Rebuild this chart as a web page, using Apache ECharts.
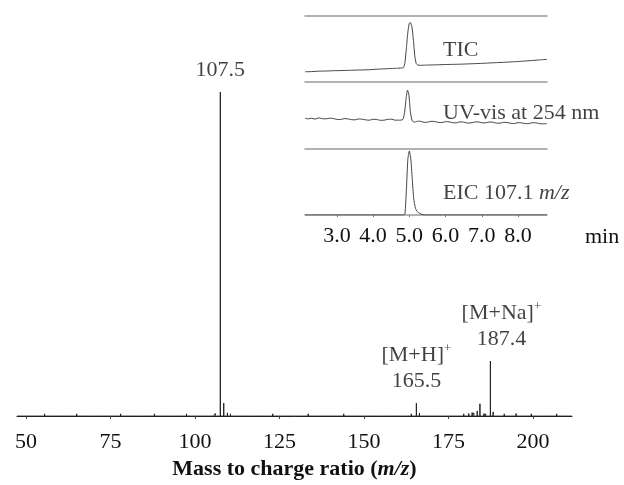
<!DOCTYPE html>
<html><head><meta charset="utf-8">
<script src="https://cdn.jsdelivr.net/npm/echarts@6/dist/echarts.min.js"></script>
<style>html,body{margin:0;padding:0;background:#fff}#c{width:624px;height:485px}</style>
</head><body><div id="c"></div>
<script>
// ---- Mass spectrum (relative intensity, % of base peak) ----
const mzMajor  = [107.5, 108.5, 109.6, 165.5, 166.4, 183.5, 184.3, 187.4, 188.2];
const intMajor = [100,   4.0,   1.0,   4.0,   0.9,   1.6,   3.8,   17.0,  1.3];
const mzNoise  = [49, 51.5, 53, 54.5, 55.5, 57, 58, 59.5, 60, 61.5, 62.5, 64, 65, 66.5, 67, 68.5, 70, 71.5, 72.5, 74, 76, 77, 78, 79.5,
                  80.5, 82, 83, 84.5, 85.5, 87, 88, 89, 90, 91.5, 92.5, 94, 95, 96.5, 97.5, 99, 100, 101, 102, 103.5, 104.5, 105.5, 106,
                  110.5, 112, 113, 114.5, 115.5, 117, 118, 119.5, 120.5, 122, 123, 124.5, 126, 127, 128.5, 130, 131, 132.5, 133.5, 135,
                  136, 137.5, 139, 140, 141.5, 143, 144, 145.5, 146.5, 148, 149, 150.5, 151.5, 153, 154, 155.5, 157, 158, 159.5, 161,
                  162, 163, 164, 167, 168, 169.5, 171, 172, 173.5, 174.5, 176, 177, 178.5, 179.5, 181, 182, 182.5, 185.5, 186,
                  189, 190, 191.5, 192.5, 194, 195, 196, 197, 198.5, 199.5, 201, 202, 203.5, 204.5, 206, 207, 208.5, 209.5, 210.5];
const intNoise = [0.5, 0.3, 0.6, 0.4, 0.7, 0.3, 0.5, 0.4, 0.6, 0.3, 0.5, 0.4, 0.7, 0.3, 0.5, 0.4, 0.6, 0.3, 0.5, 0.4, 0.6, 0.3, 0.7, 0.4,
                  0.5, 0.3, 0.6, 0.4, 0.5, 0.3, 0.7, 0.4, 0.5, 0.3, 0.6, 0.4, 0.5, 0.3, 0.7, 0.4, 0.6, 0.3, 0.5, 0.4, 0.6, 0.5, 0.8,
                  0.7, 0.4, 0.6, 0.3, 0.5, 0.4, 0.6, 0.3, 0.5, 0.4, 0.7, 0.3, 0.5, 0.4, 0.6, 0.3, 0.5, 0.4, 0.7, 0.3,
                  0.5, 0.4, 0.6, 0.3, 0.5, 0.4, 0.7, 0.3, 0.5, 0.4, 0.6, 0.3, 0.5, 0.4, 0.6, 0.3, 0.5, 0.4, 0.6, 0.3,
                  0.5, 0.4, 0.7, 0.6, 0.4, 0.5, 0.3, 0.6, 0.4, 0.5, 0.3, 0.6, 0.4, 0.7, 0.8, 1.1, 1.0, 0.8, 0.7,
                  0.6, 0.4, 0.7, 0.5, 0.4, 0.8, 0.5, 0.6, 0.4, 0.7, 0.5, 0.4, 0.6, 0.5, 0.4, 0.7, 0.5, 0.6, 0.4];
const labelMz   = [107.5, 165.5, 187.4];
const labelInt  = [100, 4.0, 17.0];
const labelText = ['107.5', '{t|[M+H]}{s|+}\n{t|165.5}', '{t|[M+Na]}{s|+}\n{t|187.4}'];
const mzTicks   = [50, 75, 100, 125, 150, 175, 200];

// ---- Inset chromatograms (time in min, relative signal 0-100 per panel) ----
const ticTime = [2.12,2.3,2.5,2.7,2.9,3.1,3.3,3.5,3.7,3.9,4.1,4.3,4.5,4.65,4.78,4.84,4.88,4.92,4.96,5.0,5.03,5.07,5.11,5.15,5.19,5.24,5.3,5.45,5.6,5.8,6.0,6.2,6.4,6.6,6.8,7.0,7.2,7.4,7.6,7.8,8.0,8.2,8.4,8.6,8.8];
const ticInt  = [15.5,15.8,16.4,16.6,17.1,17.3,17.6,18.0,18.3,18.6,19.4,19.9,20.5,20.8,21.2,22,30,52,76,89,90,84,65,40,28,25.5,25.3,25.6,25.8,26.1,26.5,26.7,27.0,27.4,27.8,28.2,28.8,29.3,29.8,30.4,31.0,31.8,32.6,33.5,34.4];
const uvTime  = [2.12,2.2,2.3,2.4,2.5,2.6,2.7,2.8,2.9,3.0,3.1,3.2,3.3,3.4,3.5,3.6,3.7,3.8,3.9,4.0,4.1,4.2,4.3,4.4,4.5,4.6,4.7,4.82,4.87,4.91,4.95,4.99,5.03,5.08,5.15,5.2,5.3,5.4,5.5,5.6,5.7,5.8,5.9,6.0,6.1,6.2,6.3,6.4,6.5,6.6,6.7,6.8,6.9,7.0,7.1,7.2,7.3,7.4,7.5,7.6,7.7,7.8,7.9,8.0,8.1,8.2,8.3,8.4,8.5,8.6,8.7,8.8];
const uvInt   = [46,45,45.8,44.6,46.5,45.2,45,46,45.5,44.2,44,45.3,45,43.8,43.5,44.9,44.5,43.4,43,44.4,44,42.8,43,44.2,44.5,43.1,43,44,55,75,88,80,55,42,40,41.2,41.5,39.8,40,41.3,41,39.6,39.5,40.8,40.5,39.2,39,40.6,40,38.8,39,40.2,40.5,39.1,39,40.3,40,38.6,38.5,39.8,39.5,38.4,38,39.4,39,37.9,38,39.2,39,37.8,37.5,38];
const eicTime = [2.12,4.85,4.88,4.92,4.96,5.0,5.04,5.08,5.12,5.17,5.22,5.3,5.38,5.5,8.8];
const eicInt  = [0,0,2,40,85,97,85,55,25,10,5,2,0.5,0,0];
const timeTicks = [3, 4, 5, 6, 7, 8];
const insetNames = ['TIC', 'UV-vis at 254 nm', 'EIC 107.1 {i|m/z}'];

const FONT = 'Liberation Serif';
const stick = [];
const peaks = mzMajor.map((m, i) => [m, intMajor[i]]).concat(mzNoise.map((m, i) => [m, intNoise[i]]));
peaks.sort((a, b) => a[0] - b[0]);
stick.push([47.34, 0]);
peaks.forEach(p => { stick.push([p[0], 0], [p[0], p[1]], [p[0], 0]); });
stick.push([211.54, 0]);

const gray = '#9a9a9a';
const insetGrid = { left: 305, right: 77 };
const tMin = 2.12, tMax = 8.8;
function topAxis(g) {
  return { type: 'value', gridIndex: g, position: 'top', min: tMin, max: tMax,
    axisLine: { onZero: false, lineStyle: { color: gray, width: 1.5 } },
    axisTick: { show: false }, axisLabel: { show: false }, splitLine: { show: false } };
}
function hiddenY(g) { return { type: 'value', gridIndex: g, min: 0, max: 100, show: false }; }

const chart = echarts.init(document.getElementById('c'), null, { renderer: 'canvas' });
chart.setOption({
  animation: false,
  backgroundColor: '#fff',
  textStyle: { fontFamily: FONT },
  grid: [
    { left: 17, right: 52, top: 92, bottom: 68 },
    { left: insetGrid.left, right: insetGrid.right, top: 16, height: 66 },
    { left: insetGrid.left, right: insetGrid.right, top: 82, height: 67 },
    { left: insetGrid.left, right: insetGrid.right, top: 149, height: 66 }
  ],
  xAxis: [
    { type: 'value', gridIndex: 0, min: 47.34, max: 211.54,
      axisLine: { onZero: false, lineStyle: { color: '#222', width: 1 } },
      axisTick: { show: true, customValues: mzTicks, length: 3, lineStyle: { color: '#444' } },
      axisLabel: { customValues: mzTicks, fontFamily: FONT, fontSize: 22, color: '#111', margin: 15 },
      splitLine: { show: false },
      name: '{b|Mass to charge ratio (}{bi|m/z}{b|)}', nameLocation: 'middle', nameGap: 40,
      nameTextStyle: { rich: {
        b: { fontFamily: FONT, fontSize: 22, fontWeight: 'bold', color: '#111' },
        bi: { fontFamily: FONT, fontSize: 22, fontWeight: 'bold', fontStyle: 'italic', color: '#111' } } } },
    topAxis(1), topAxis(2), topAxis(3),
    { type: 'value', gridIndex: 3, position: 'bottom', min: tMin, max: tMax,
      axisLine: { onZero: false, lineStyle: { color: gray, width: 1.5 } },
      axisTick: { show: true, customValues: timeTicks, length: 2, lineStyle: { color: '#777' } },
      axisLabel: { customValues: timeTicks, formatter: v => v.toFixed(1), fontFamily: FONT, fontSize: 22, color: '#111', margin: 10 },
      splitLine: { show: false },
      name: 'min', nameLocation: 'end', nameGap: 38,
      nameTextStyle: { fontFamily: FONT, fontSize: 22, color: '#111', verticalAlign: 'top', padding: [11, 0, 0, 0] } }
  ],
  yAxis: [hiddenY(0), hiddenY(1), hiddenY(2), hiddenY(3)],
  series: [
    { type: 'line', xAxisIndex: 0, yAxisIndex: 0, data: stick, showSymbol: false, symbol: 'none',
      lineStyle: { color: '#222', width: 1 } },
    { type: 'scatter', xAxisIndex: 0, yAxisIndex: 0, symbolSize: 0,
      data: labelMz.map((m, i) => [m, labelInt[i]]),
      label: { show: true, position: 'top', distance: 9, align: 'center',
        fontFamily: FONT, fontSize: 22, color: '#111', lineHeight: 26,
        formatter: p => labelText[p.dataIndex],
        rich: { t: { fontFamily: FONT, fontSize: 22, color: '#111', lineHeight: 26 },
                s: { fontFamily: FONT, fontSize: 13, color: '#111', verticalAlign: 'top', lineHeight: 13 } } },
      labelLayout: p => p.dataIndex === 2 ? { dx: 11 } : {} },
    { type: 'line', xAxisIndex: 1, yAxisIndex: 1, data: ticTime.map((t, i) => [t, ticInt[i]]), symbol: 'none', smooth: 0.2,
      lineStyle: { color: '#444', width: 1 } },
    { type: 'line', xAxisIndex: 2, yAxisIndex: 2, data: uvTime.map((t, i) => [t, uvInt[i]]), symbol: 'none', smooth: 0.2,
      lineStyle: { color: '#444', width: 1 } },
    { type: 'line', xAxisIndex: 3, yAxisIndex: 3, data: eicTime.map((t, i) => [t, eicInt[i]]), symbol: 'none', smooth: 0.2,
      lineStyle: { color: '#444', width: 1 } },
    { type: 'scatter', xAxisIndex: 1, yAxisIndex: 1, symbolSize: 0, data: [[5.93, 48.5]],
      label: { show: true, position: 'right', distance: 0, fontFamily: FONT, fontSize: 22, color: '#111', formatter: insetNames[0] } },
    { type: 'scatter', xAxisIndex: 2, yAxisIndex: 2, symbolSize: 0, data: [[5.93, 54]],
      label: { show: true, position: 'right', distance: 0, fontFamily: FONT, fontSize: 22, color: '#111', formatter: insetNames[1] } },
    { type: 'scatter', xAxisIndex: 3, yAxisIndex: 3, symbolSize: 0, data: [[5.93, 33]],
      label: { show: true, position: 'right', distance: 0, fontFamily: FONT, fontSize: 22, color: '#111', formatter: insetNames[2],
        rich: { i: { fontFamily: FONT, fontSize: 22, fontStyle: 'italic', color: '#111' } } } }
  ]
});
</script>
</body></html>
